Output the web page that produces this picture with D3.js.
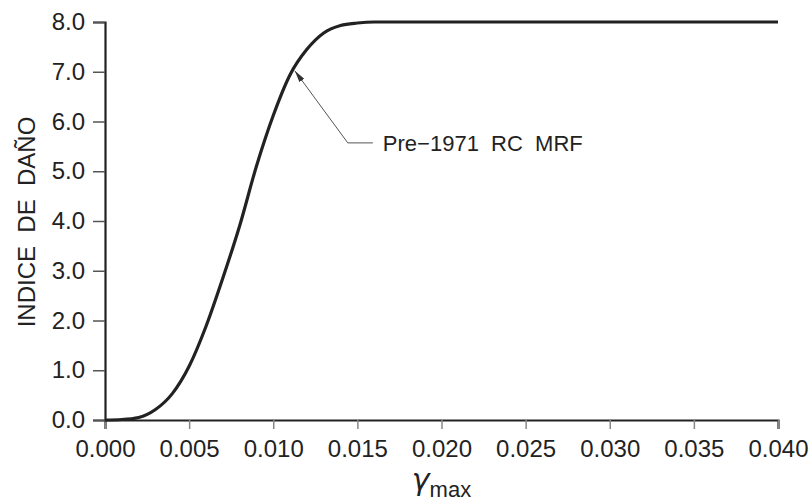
<!DOCTYPE html>
<html>
<head>
<meta charset="utf-8">
<script src="https://cdn.jsdelivr.net/npm/d3@7"></script>
<style>
  body { margin: 0; background: #fff; }
  text { font-family: "Liberation Sans", Arial, sans-serif; fill: #222; }
</style>
</head>
<body>
<script>
// chart size and plot box
const w = 810;
const h = 501;
const padLeft = 105, padRight = 778, padTop = 22, padBottom = 420;

// curve
const gammaMax = [0, 0.001, 0.002, 0.003, 0.004, 0.005, 0.006, 0.007, 0.008, 0.009,
  0.010, 0.011, 0.012, 0.013, 0.014, 0.015, 0.016, 0.018, 0.020, 0.025, 0.030, 0.035, 0.040];
const damage = [0, 0.01, 0.05, 0.21, 0.53, 1.08, 1.88, 2.85, 3.9, 5.1,
  6.12, 6.94, 7.45, 7.78, 7.93, 7.98, 8.0, 8.0, 8.0, 8.0, 8.0, 8.0, 8.0];
const xTicks = [0, 0.005, 0.010, 0.015, 0.020, 0.025, 0.030, 0.035, 0.040];
const yTicks = [0, 1, 2, 3, 4, 5, 6, 7, 8];

// annotation: arrow tip, elbow and label
const seriesLabel = "Pre\u22121971  RC  MRF";
const arrowTip = [0.01128, 7.02];
const arrowElbow = [0.01443, 5.57];
const arrowEnd = [0.01592, 5.57];

const xScale = d3.scaleLinear().domain([0, 0.04]).range([padLeft, padRight]);
const yScale = d3.scaleLinear().domain([0, 8]).range([padBottom, padTop]);

const svg = d3.select("body").append("svg")
    .attr("width", w)
    .attr("height", h);

svg.append("defs").append("marker")
    .attr("id", "arrow")
    .attr("viewBox", "0 0 12 6")
    .attr("refX", 12).attr("refY", 3)
    .attr("markerWidth", 12).attr("markerHeight", 6)
    .attr("markerUnits", "userSpaceOnUse")
    .attr("orient", "auto")
    .append("path")
    .attr("d", "M0,0 L12,3 L0,6 Z")
    .attr("fill", "#333");

// x axis
const xAxis = svg.append("g")
    .attr("transform", `translate(0,${padBottom})`)
    .call(d3.axisBottom(xScale).tickValues(xTicks).tickFormat(d3.format(".3f")).tickSize(9).tickPadding(11));
xAxis.select(".domain").attr("stroke", "#222").attr("stroke-width", 2.2);
xAxis.selectAll(".tick line").attr("stroke", "#888").attr("stroke-width", 1.5);
xAxis.selectAll("text").attr("font-size", 24).attr("fill", "#222")
    .style("font-family", "'Liberation Sans', Arial, sans-serif");

// y axis
const yAxis = svg.append("g")
    .attr("transform", `translate(${padLeft},0)`)
    .call(d3.axisLeft(yScale).tickValues(yTicks).tickFormat(d3.format(".1f")).tickSize(12).tickPadding(8));
yAxis.select(".domain").attr("stroke", "#222").attr("stroke-width", 2.2);
yAxis.selectAll(".tick line").attr("stroke", "#555").attr("stroke-width", 1.5);
yAxis.selectAll("text").attr("font-size", 24).attr("fill", "#222")
    .style("font-family", "'Liberation Sans', Arial, sans-serif");

// the curve
const line = d3.line()
    .x((d, i) => xScale(gammaMax[i]))
    .y(d => yScale(d))
    .curve(d3.curveMonotoneX);

svg.append("path")
    .datum(damage)
    .attr("d", line)
    .attr("fill", "none")
    .attr("stroke", "#222")
    .attr("stroke-width", 3.2);

// leader line with arrow
svg.append("polyline")
    .attr("points", [arrowEnd, arrowElbow, arrowTip].map(p => [xScale(p[0]), yScale(p[1])].join(",")).join(" "))
    .attr("fill", "none")
    .attr("stroke", "#555")
    .attr("stroke-width", 1)
    .attr("marker-end", "url(#arrow)");

svg.append("text")
    .attr("x", xScale(arrowEnd[0]) + 10)
    .attr("y", yScale(arrowEnd[1]) + 8)
    .attr("font-size", 22)
    .style("white-space", "pre")
    .attr("xml:space", "preserve")
    .text(seriesLabel);

// axis titles
svg.append("text")
    .attr("transform", `translate(35,${(padTop + padBottom) / 2 + 1}) rotate(-90)`)
    .attr("text-anchor", "middle")
    .attr("font-size", 24)
    .style("white-space", "pre")
    .attr("xml:space", "preserve")
    .text("INDICE  DE  DAÑO");

const xt = svg.append("text")
    .attr("x", (padLeft + padRight) / 2)
    .attr("y", 490)
    .attr("text-anchor", "middle");
xt.append("tspan").attr("font-size", 30).attr("font-style", "italic")
    .style("font-family", "'DejaVu Sans', sans-serif").text("γ");
xt.append("tspan").attr("font-size", 22).attr("dy", 7).text("max");
</script>
</body>
</html>
